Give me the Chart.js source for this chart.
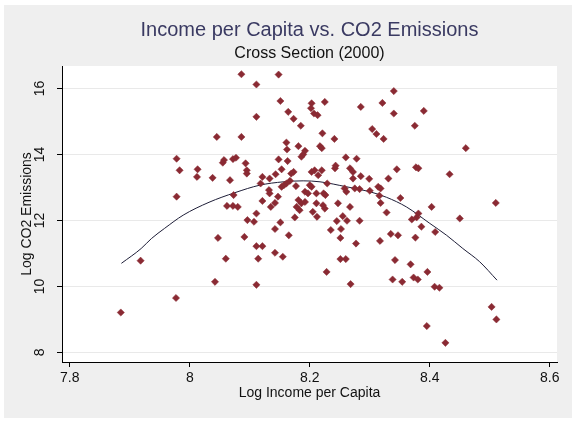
<!DOCTYPE html>
<html>
<head>
<meta charset="utf-8">
<script src="https://cdn.jsdelivr.net/npm/chart.js@4.4.1/dist/chart.umd.min.js"></script>
<style>
  html, body { margin: 0; padding: 0; background: #ffffff; }
  #wrap { width: 576px; height: 422px; }
</style>
</head>
<body>
<div id="wrap"><canvas id="chart" width="576" height="422"></canvas></div>
<script>
  // values
  const incomeLog = [
    7.978, 8.086, 8.148, 8.111, 8.151, 8.164, 8.173, 8.185, 8.111, 8.045, 8.086, 8.161, 8.162, 8.181, 8.192, 8.186, 8.189, 8.148, 8.163, 8.057, 8.055, 8.072, 8.077, 8.093,
    8.34, 8.225, 8.203, 8.202, 8.207, 8.213, 8.285, 8.321, 8.34, 8.39, 8.375, 8.304, 8.311, 8.323, 8.221, 8.241, 8.217, 8.22, 8.26, 8.278,
    8.46, 8.433, 8.403, 8.51, 8.45, 8.409, 8.408, 8.416, 8.503, 8.511, 8.426,
    7.983, 8.013, 8.012, 7.978, 7.918, 7.977, 7.885,
    8.095, 8.095, 8.038, 8.067, 8.121, 8.133, 8.143, 8.153, 8.169, 8.173, 8.203, 8.208, 8.214, 8.118, 8.132, 8.133, 8.147, 8.153, 8.161, 8.167,
    8.157, 8.177, 8.192, 8.197, 8.2, 8.203, 8.211, 8.073, 8.121, 8.142, 8.135, 8.062, 8.072, 8.08, 8.111, 8.096, 8.107, 8.181, 8.186, 8.192,
    8.178, 8.183, 8.211, 8.205, 8.212, 8.175, 8.151, 8.142, 8.165, 8.047, 8.091, 8.111, 8.121, 8.142, 8.155, 8.06, 8.114, 8.042, 8.111,
    8.242, 8.243, 8.267, 8.272, 8.22, 8.345, 8.377, 8.381, 8.272, 8.285, 8.299, 8.331, 8.229, 8.223, 8.226, 8.258, 8.261, 8.275, 8.283, 8.3,
    8.314, 8.318, 8.316, 8.351, 8.318, 8.247, 8.267, 8.222, 8.225, 8.328, 8.255, 8.262, 8.245, 8.283, 8.37, 8.378, 8.381, 8.386, 8.235, 8.252,
    8.251, 8.277, 8.317, 8.335, 8.347, 8.376, 8.251, 8.26, 8.342, 8.368, 8.228, 8.396, 8.373, 8.38, 8.338, 8.354, 8.268, 8.395
  ];
  const co2Log = [
    13.87, 16.43, 16.42, 16.12, 15.62, 15.29, 15.08, 14.87, 15.14, 14.53, 14.53, 14.36, 14.15, 14.25, 14.11, 13.93, 14.00, 13.85, 13.80, 13.83, 13.75, 13.86, 13.90, 13.73,
    15.92, 15.59, 15.55, 15.40, 15.24, 15.19, 15.44, 15.56, 15.24, 15.32, 14.87, 14.77, 14.62, 14.47, 14.64, 14.47, 14.25, 14.19, 13.91, 13.87,
    14.19, 13.40, 12.41, 12.53, 12.06, 11.65, 9.99, 9.96, 9.38, 9.00, 8.29,
    13.52, 13.55, 13.32, 12.72, 10.78, 9.65, 9.21,
    13.52, 13.42, 13.29, 13.22, 13.32, 13.27, 13.40, 13.55, 13.42, 13.47, 13.47, 13.52, 13.37, 13.12, 12.92, 12.82, 12.72, 13.02, 13.12, 13.20,
    13.07, 13.04, 12.87, 12.82, 13.07, 13.02, 12.82, 12.77, 12.59, 12.53, 12.41, 12.44, 12.44, 12.41, 12.21, 12.01, 11.96, 12.62, 12.52, 12.56,
    12.41, 12.31, 12.52, 12.26, 12.11, 12.09, 11.94, 11.74, 11.55, 11.47, 11.50, 11.22, 11.22, 11.02, 10.90, 10.84, 10.84, 10.14, 10.05,
    13.58, 13.66, 13.58, 13.47, 13.52, 13.55, 13.61, 13.58, 13.27, 13.34, 13.26, 13.27, 13.12, 12.82, 12.77, 12.97, 12.87, 12.97, 12.95, 12.90,
    13.02, 12.97, 12.75, 12.68, 12.53, 12.52, 12.41, 12.46, 12.36, 12.24, 12.13, 11.99, 11.98, 11.99, 12.03, 12.09, 12.21, 11.81, 11.71, 11.74,
    11.47, 11.30, 11.38, 11.59, 11.55, 11.48, 10.83, 10.83, 10.80, 10.67, 10.44, 10.44, 10.27, 10.21, 10.21, 10.14, 10.07, 8.80
  ];

  // fitted curve
  const fitX = [7.886, 7.919, 7.936, 7.958, 7.989, 8.032, 8.075, 8.117, 8.156, 8.189, 8.217, 8.261, 8.3, 8.328, 8.361, 8.4, 8.428, 8.455, 8.483, 8.512];
  const fitY = [10.70, 11.15, 11.45, 11.76, 12.16, 12.55, 12.84, 13.07, 13.17, 13.20, 13.17, 13.02, 12.87, 12.70, 12.41, 11.91, 11.55, 11.15, 10.75, 10.19];

  const xTicks = [7.8, 8, 8.2, 8.4, 8.6];
  const yTicks = [8, 10, 12, 14, 16];

  const FONT = '"Liberation Sans", Arial, sans-serif';
  Chart.defaults.font.family = FONT;

  // backgrounds + hand placed texts (titles, y labels)
  const stataFrame = {
    id: 'stataFrame',
    beforeDraw(chart) {
      const { ctx, chartArea: a } = chart;
      ctx.save();
      ctx.fillStyle = '#ffffff';
      ctx.fillRect(0, 0, chart.width, chart.height);
      ctx.fillStyle = '#efefef';
      ctx.fillRect(4, 5, 568, 413);
      ctx.fillStyle = '#ffffff';
      ctx.fillRect(a.left, a.top, a.right - a.left, a.bottom - a.top);
      ctx.restore();
    },
    afterDraw(chart) {
      const { ctx, chartArea: a } = chart;
      const cx = (a.left + a.right) / 2;
      const cy = (a.top + a.bottom) / 2;
      ctx.save();
      ctx.textAlign = 'center';
      ctx.textBaseline = 'middle';

      ctx.fillStyle = '#3a3a62';
      ctx.font = '20px ' + FONT;
      ctx.fillText('Income per Capita vs. CO2 Emissions', cx, 30);

      ctx.fillStyle = '#111111';
      ctx.font = '16px ' + FONT;
      ctx.fillText('Cross Section (2000)', cx, 54);

      ctx.font = '14px ' + FONT;
      ctx.fillText('Log Income per Capita', cx, 393);

      // y axis: rotated tick labels and title
      const ys = chart.scales.y;
      yTicks.forEach(v => {
        ctx.save();
        ctx.translate(40, ys.getPixelForValue(v));
        ctx.rotate(-Math.PI / 2);
        ctx.fillText(String(v), 0, 0);
        ctx.restore();
      });
      ctx.save();
      ctx.translate(27, cy);
      ctx.rotate(-Math.PI / 2);
      ctx.fillText('Log CO2 Emissions', 0, 0);
      ctx.restore();

      ctx.restore();
    }
  };

  new Chart(document.getElementById('chart'), {
    type: 'scatter',
    data: {
      datasets: [
        {
          label: 'Log CO2 Emissions',
          data: incomeLog.map((x, i) => ({ x: x, y: co2Log[i] })),
          pointStyle: 'rectRot',
          pointRadius: 3.6,
          pointHoverRadius: 3.6,
          backgroundColor: '#8a2a33',
          borderColor: '#8a2a33',
          borderWidth: 0.5,
          order: 1
        },
        {
          label: 'Fitted values',
          data: fitX.map((x, i) => ({ x: x, y: fitY[i] })),
          showLine: true,
          pointRadius: 0,
          borderColor: '#1e1e38',
          borderWidth: 1,
          cubicInterpolationMode: 'monotone',
          order: 2
        }
      ]
    },
    options: {
      responsive: false,
      animation: false,
      events: [],
      layout: { padding: { top: 66, right: 19, bottom: 0, left: 0 } },
      plugins: {
        legend: { display: false },
        title: { display: false },
        tooltip: { enabled: false }
      },
      scales: {
        x: {
          type: 'linear',
          min: 7.787,
          max: 8.612,
          afterBuildTicks: (scale) => { scale.ticks = xTicks.map(v => ({ value: v })); },
          afterFit: (scale) => { scale.height = 60; },
          border: { display: true, color: '#000000', width: 1 },
          grid: { drawOnChartArea: false, drawTicks: true, tickLength: 5, tickColor: '#000000' },
          ticks: {
            color: '#111111', font: { size: 14 }, padding: 3, maxRotation: 0, autoSkip: false,
            callback: (v) => String(Math.round(v * 10) / 10)
          }
        },
        y: {
          type: 'linear',
          min: 7.71,
          max: 16.68,
          afterBuildTicks: (scale) => { scale.ticks = yTicks.map(v => ({ value: v })); },
          afterFit: (scale) => { scale.width = 62; },
          border: { display: true, color: '#000000', width: 1 },
          grid: { color: '#e9e9e9', lineWidth: 1, drawTicks: true, tickLength: 5, tickColor: '#000000' },
          ticks: { color: 'rgba(0,0,0,0)', font: { size: 14 }, autoSkip: false }
        }
      }
    },
    plugins: [stataFrame]
  });
</script>
</body>
</html>
